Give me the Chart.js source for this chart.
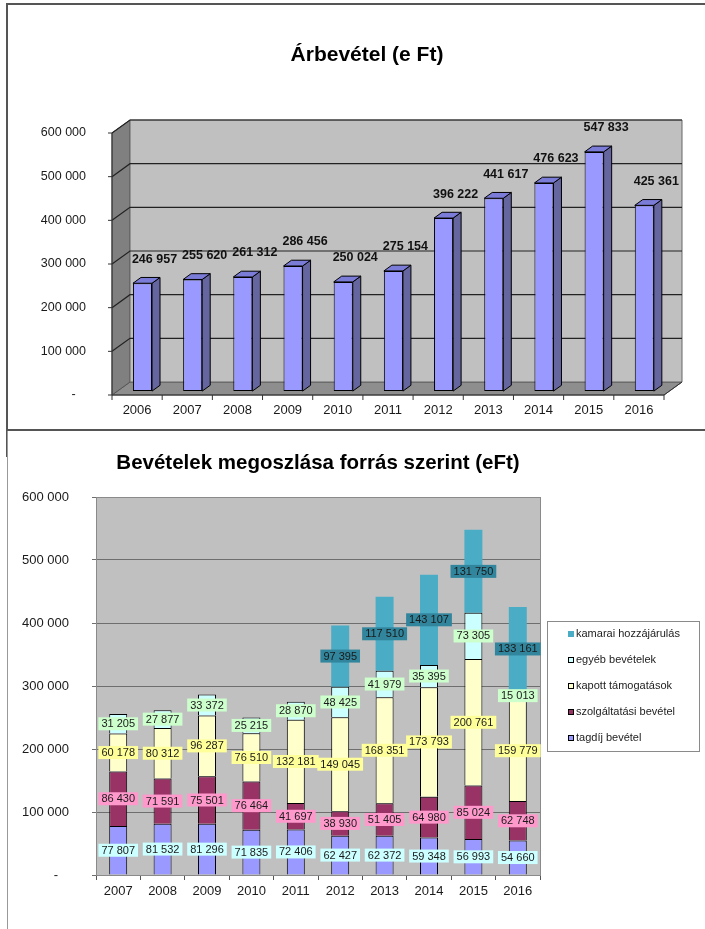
<!DOCTYPE html>
<html>
<head>
<meta charset="utf-8">
<script src="https://cdn.jsdelivr.net/npm/chart.js@4.4.1/dist/chart.umd.min.js"></script>
<style>
  html, body { margin: 0; padding: 0; background: #fff; overflow: hidden; }
  body { width: 705px; height: 929px; position: relative; }
  #frame1 { position: absolute; left: 6px; top: 3px; width: 720px; height: 424px;
            border-left: 2px solid #555; border-top: 2px solid #555; border-bottom: 2px solid #555; }
  #line2a { position: absolute; left: 6px; top: 431px; height: 26px; border-left: 2px solid #555; }
  #line2b { position: absolute; left: 7px; top: 431px; height: 498px; border-left: 1px solid #999; }
  #c1 { position: absolute; left: 8px; top: 5px; }
  #c2 { position: absolute; left: 9px; top: 432px; }
</style>
</head>
<body>
<div id="frame1"></div>
<div id="line2a"></div>
<div id="line2b"></div>
<canvas id="c1" width="697" height="424"></canvas>
<canvas id="c2" width="696" height="497"></canvas>
<script>
// top chart data
const years1 = ['2006', '2007', '2008', '2009', '2010', '2011', '2012', '2013', '2014', '2015', '2016'];
const revenue = [246957, 255620, 261312, 286456, 250024, 275154, 396222, 441617, 476623, 547833, 425361];

// bottom chart data
const years2 = ['2007', '2008', '2009', '2010', '2011', '2012', '2013', '2014', '2015', '2016'];
const tagdij = [77807, 81532, 81296, 71835, 72406, 62427, 62372, 59348, 56993, 54660];
const szolgaltatas = [86430, 71591, 75501, 76464, 41697, 38930, 51405, 64980, 85024, 62748];
const tamogatas = [60178, 80312, 96287, 76510, 132181, 149045, 168351, 173793, 200761, 159779];
const egyeb = [31205, 27877, 33372, 25215, 28870, 48425, 41979, 35395, 73305, 15013];
const kamarai = [null, null, null, null, null, 97395, 117510, 143107, 131750, 133161];

const yMax = 600000;
const yStep = 100000;

Chart.defaults.font.family = '"Liberation Sans", Arial, sans-serif';
Chart.defaults.color = '#1a1a1a';

function fmt(v) {
  return String(v).replace(/\B(?=(\d{3})+(?!\d))/g, ' ');
}
function tickFmt(v) {
  return v === 0 ? '-   ' : fmt(v);
}

function poly(ctx, pts, fill, stroke) {
  ctx.beginPath();
  ctx.moveTo(pts[0][0], pts[0][1]);
  for (let i = 1; i < pts.length; i++) ctx.lineTo(pts[i][0], pts[i][1]);
  ctx.closePath();
  if (fill) { ctx.fillStyle = fill; ctx.fill(); }
  if (stroke) { ctx.strokeStyle = stroke; ctx.lineWidth = 1; ctx.stroke(); }
}

// depth of the 3d box, of the bar front and of the bar itself
const DX = 18, DY = -13;
const BX = 5.4, BY = -3.9;
const SX = 8, SY = -5.8;

// title placed freely, so the y tick labels keep the whole left margin
const freeTitle = {
  id: 'freeTitle',
  afterDraw(chart, args, opts) {
    const ctx = chart.ctx;
    ctx.save();
    ctx.font = 'bold 21px "Liberation Sans", Arial, sans-serif';
    ctx.fillStyle = '#000';
    ctx.textAlign = 'center';
    ctx.textBaseline = 'middle';
    ctx.fillText(opts.text, opts.x, opts.y);
    ctx.restore();
  }
};

const box3d = {
  id: 'box3d',
  beforeDatasetsDraw(chart) {
    const {ctx, chartArea: a, scales: {x, y}} = chart;
    ctx.save();
    // floor, side wall, back wall
    poly(ctx, [[a.left, a.bottom], [a.left + DX, a.bottom + DY], [a.right + DX, a.bottom + DY], [a.right, a.bottom]], '#8e8e8e', '#555');
    poly(ctx, [[a.left, a.top], [a.left + DX, a.top + DY], [a.left + DX, a.bottom + DY], [a.left, a.bottom]], '#808080', '#555');
    poly(ctx, [[a.left + DX, a.top + DY], [a.right + DX, a.top + DY], [a.right + DX, a.bottom + DY], [a.left + DX, a.bottom + DY]], '#c0c0c0', '#666');
    // gridlines over side and back wall
    ctx.strokeStyle = '#222';
    ctx.lineWidth = 1.2;
    y.ticks.forEach(t => {
      if (t.value === 0) return;
      const py = y.getPixelForValue(t.value);
      ctx.beginPath();
      ctx.moveTo(a.left, py);
      ctx.lineTo(a.left + DX, py + DY);
      ctx.lineTo(a.right + DX, py + DY);
      ctx.stroke();
    });
    // front axes with tick marks
    ctx.strokeStyle = '#333';
    ctx.lineWidth = 1;
    ctx.beginPath();
    ctx.moveTo(a.left, a.top);
    ctx.lineTo(a.left, a.bottom);
    ctx.lineTo(a.right, a.bottom);
    ctx.lineTo(a.right + DX, a.bottom + DY);
    y.ticks.forEach(t => {
      const py = y.getPixelForValue(t.value);
      ctx.moveTo(a.left - 4, py);
      ctx.lineTo(a.left, py);
    });
    for (let i = 0; i <= x.ticks.length; i++) {
      const px = x.getPixelForValue(i - 0.5);
      ctx.moveTo(px, a.bottom);
      ctx.lineTo(px, a.bottom + 5);
    }
    ctx.stroke();
    ctx.restore();
  },
  beforeDatasetDraw(chart) {
    chart.ctx.save();
    chart.ctx.translate(BX, BY);
  },
  afterDatasetDraw(chart, args) {
    const ctx = chart.ctx;
    args.meta.data.forEach(el => {
      const {x, y, base, width} = el.getProps(['x', 'y', 'base', 'width'], true);
      const l = x - width / 2, r = x + width / 2;
      poly(ctx, [[r, y], [r + SX, y + SY], [r + SX, base + SY], [r, base]], '#65659f', '#000');
      poly(ctx, [[l, y], [l + SX, y + SY], [r + SX, y + SY], [r, y]], '#7b7bd8', '#000');
    });
    ctx.restore();
  },
  afterDatasetsDraw(chart) {
    const ctx = chart.ctx;
    const ds = chart.data.datasets[0];
    ctx.save();
    ctx.font = 'bold 12.5px "Liberation Sans", Arial, sans-serif';
    ctx.fillStyle = '#111';
    ctx.textAlign = 'center';
    ctx.textBaseline = 'middle';
    chart.getDatasetMeta(0).data.forEach((el, i) => {
      const {x, y} = el.getProps(['x', 'y'], true);
      ctx.fillText(fmt(ds.data[i]), x + BX + 12, y + BY - 24);
    });
    ctx.restore();
  }
};

new Chart(document.getElementById('c1'), {
  type: 'bar',
  data: {
    labels: years1,
    datasets: [{
      label: 'Árbevétel',
      data: revenue,
      backgroundColor: '#9999ff',
      borderColor: '#000',
      borderWidth: 1,
      borderSkipped: false,
      barPercentage: 0.38,
      categoryPercentage: 1,
      clip: false
    }]
  },
  options: {
    responsive: false,
    animation: false,
    layout: { padding: { left: 0, right: 41, top: 128, bottom: 0 } },
    plugins: {
      legend: { display: false },
      tooltip: { enabled: false },
      title: { display: false },
      freeTitle: { text: 'Árbevétel (e Ft)', x: 359, y: 50 }
    },
    scales: {
      x: {
        grid: { display: false, drawTicks: false },
        border: { display: false },
        ticks: { font: { size: 13 }, padding: 8 },
        afterFit(scale) { scale.height = 34; }
      },
      y: {
        min: 0,
        max: yMax,
        grid: { display: false, drawTicks: false },
        border: { display: false },
        ticks: { stepSize: yStep, font: { size: 12.5 }, padding: 26, callback: tickFmt },
        afterFit(scale) { scale.width = 104; }
      }
    }
  },
  plugins: [box3d, freeTitle]
});

// bottom chart
const plotBg = {
  id: 'plotBg',
  beforeDraw(chart) {
    const {ctx, chartArea: a} = chart;
    ctx.save();
    ctx.fillStyle = '#c0c0c0';
    ctx.fillRect(a.left, a.top, a.right - a.left, a.bottom - a.top);
    ctx.restore();
  },
  beforeDatasetsDraw(chart) {
    const {ctx, chartArea: a} = chart;
    ctx.save();
    ctx.strokeStyle = '#8a8a8a';
    ctx.lineWidth = 1;
    ctx.strokeRect(a.left + 0.5, a.top + 0.5, a.right - a.left, a.bottom - a.top);
    ctx.restore();
  }
};

const segLabels = {
  id: 'segLabels',
  afterDatasetsDraw(chart) {
    const ctx = chart.ctx;
    ctx.save();
    ctx.font = '11px "Liberation Sans", Arial, sans-serif';
    ctx.textAlign = 'center';
    ctx.textBaseline = 'middle';
    chart.data.datasets.forEach((ds, i) => {
      chart.getDatasetMeta(i).data.forEach((el, j) => {
        const v = ds.data[j];
        if (!v) return;
        const {x, y, base} = el.getProps(['x', 'y', 'base'], true);
        const cy = (y + base) / 2;
        const txt = fmt(v);
        const w = ctx.measureText(txt).width + 6, h = 13;
        ctx.fillStyle = ds.labelBg;
        ctx.fillRect(x - w / 2, cy - h / 2, w, h);
        ctx.fillStyle = '#1a1a1a';
        ctx.fillText(txt, x, cy + 0.5);
      });
    });
    ctx.restore();
  }
};

const sideLegend = {
  id: 'sideLegend',
  afterDraw(chart) {
    const {ctx, chartArea: a} = chart;
    const w = 152, h = 130;
    const left = a.right + 7, top = Math.round((a.top + a.bottom) / 2 - h / 2);
    ctx.save();
    ctx.fillStyle = '#fff';
    ctx.fillRect(left, top, w, h);
    ctx.strokeStyle = '#8a8a8a';
    ctx.lineWidth = 1;
    ctx.strokeRect(left + 0.5, top + 0.5, w, h);
    ctx.font = '11px "Liberation Sans", Arial, sans-serif';
    ctx.textAlign = 'left';
    ctx.textBaseline = 'middle';
    chart.data.datasets.slice().reverse().forEach((ds, i) => {
      const cy = top + 13 + i * 26;
      ctx.fillStyle = ds.backgroundColor;
      ctx.fillRect(left + 21, cy - 3, 6, 6);
      if (ds.borderWidth) {
        ctx.strokeStyle = '#000';
        ctx.strokeRect(left + 21.5, cy - 2.5, 5, 5);
      }
      ctx.fillStyle = '#222';
      ctx.fillText(ds.label, left + 29, cy);
    });
    ctx.restore();
  }
};

function seg(label, data, color, labelBg, border) {
  return {
    label: label,
    data: data,
    backgroundColor: color,
    borderColor: '#000',
    borderWidth: border ? 1 : 0,
    labelBg: labelBg,
    barPercentage: 0.405,
    categoryPercentage: 1
  };
}

new Chart(document.getElementById('c2'), {
  type: 'bar',
  data: {
    labels: years2,
    datasets: [
      seg('tagdíj bevétel', tagdij, '#9999ff', '#ccffff', true),
      seg('szolgáltatási bevétel', szolgaltatas, '#993366', '#ff99cc', true),
      seg('kapott támogatások', tamogatas, '#ffffcc', '#ffff99', true),
      seg('egyéb bevételek', egyeb, '#ccffff', '#ccffcc', true),
      seg('kamarai hozzájárulás', kamarai, '#4bacc6', '#31859c', false)
    ]
  },
  options: {
    responsive: false,
    animation: false,
    layout: { padding: { left: 0, right: 165, top: 0, bottom: 0 } },
    plugins: {
      legend: { display: false },
      tooltip: { enabled: false },
      title: {
        display: true,
        fullSize: false,
        text: 'Bevételek megoszlása forrás szerint (eFt)',
        color: '#000',
        font: { size: 20.5, weight: 'bold' },
        padding: { top: 18.7, bottom: 21.7 }
      }
    },
    scales: {
      x: {
        stacked: true,
        grid: { drawOnChartArea: false, drawTicks: true, tickLength: 5, color: '#555' },
        border: { color: '#555' },
        ticks: { font: { size: 13 }, padding: 4 },
        afterFit(scale) { scale.height = 54; }
      },
      y: {
        stacked: true,
        min: 0,
        max: yMax,
        grid: { color: '#6e6e6e', tickLength: 4 },
        border: { color: '#8a8a8a' },
        ticks: { stepSize: yStep, font: { size: 13 }, padding: 23, callback: tickFmt },
        afterFit(scale) { scale.width = 87; }
      }
    }
  },
  plugins: [plotBg, segLabels, sideLegend]
});
</script>
</body>
</html>
